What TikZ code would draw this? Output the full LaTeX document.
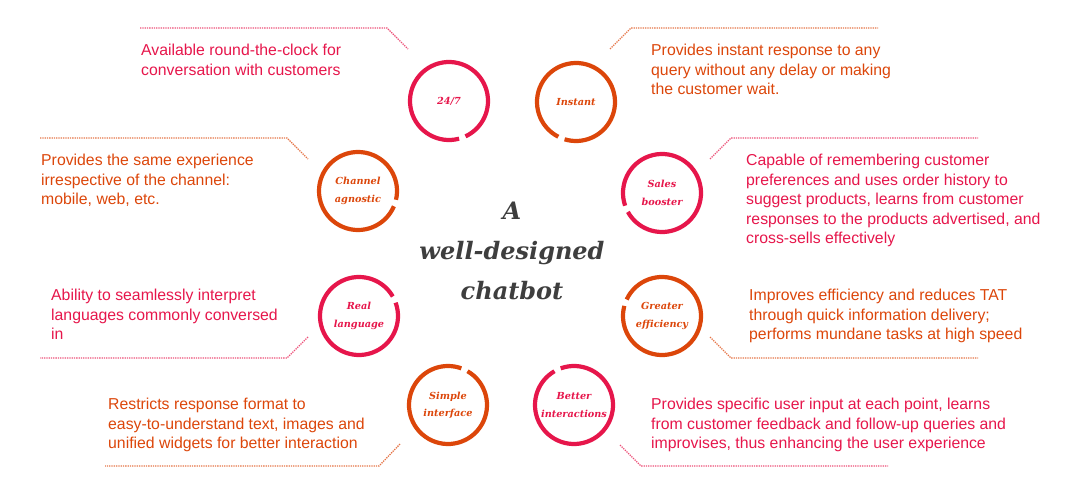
\documentclass[tikz,border=0pt]{standalone}
\usepackage{fontspec}
\setmainfont{Liberation Sans}
\newfontfamily\titlefont{DejaVu Serif}
\usetikzlibrary{calc}
\definecolor{crim}{RGB}{230,22,75}
\definecolor{oran}{RGB}{220,70,10}
\definecolor{titlegray}{RGB}{62,62,62}
\tikzset{
  desc/.style={anchor=north west, inner sep=0pt, align=left, font=\fontsize{15.8}{19.5}\selectfont},
  ring/.style={line width=4.2pt, line cap=butt},
  lbl/.style={inner sep=0pt, align=center, font=\titlefont\bfseries\itshape\fontsize{9.7}{17.5}\selectfont},
  lead/.style={densely dotted, line width=1.3pt},
}
\newcommand{\ringarc}[3]{% node, gap angle, colour
  \draw[ring,#3] ($(#1.center)+({#2+5}:39)$) arc[start angle={#2+5}, end angle={#2+355}, radius=39];}
\begin{document}
\begin{tikzpicture}[x=1pt,y=-1pt]
\useasboundingbox (0,0) rectangle (1084,500);

% circle labels
\node[lbl,crim] (c1) at (449,101) {24/7};
\node[lbl,oran] (c2) at (576,102) {Instant};
\node[lbl,oran] (c3) at (358,191) {Channel\\agnostic};
\node[lbl,crim] (c4) at (662,193) {Sales\\booster};
\node[lbl,crim] (c5) at (359,316) {Real\\language};
\node[lbl,oran] (c6) at (662,316) {Greater\\efficiency};
\node[lbl,oran] (c7) at (448,405) {Simple\\interface};
\node[lbl,crim] (c8) at (574,405) {Better\\interactions};

\ringarc{c1}{70}{crim}
\ringarc{c2}{112}{oran}
\ringarc{c3}{18}{oran}
\ringarc{c4}{156}{crim}
\ringarc{c5}{-25}{crim}
\ringarc{c6}{200}{oran}
\ringarc{c7}{-65}{oran}
\ringarc{c8}{-115}{crim}

% title
\node[inner sep=0pt, align=center, text=titlegray, font=\titlefont\bfseries\itshape\fontsize{24}{40}\selectfont] (title) at (512,251) {A\\well-designed\\chatbot};

% descriptions
\node[desc,crim] (t1) at (141,44) {Available round-the-clock for\\conversation with customers};
\node[desc,oran] (t2) at (651,44) {Provides instant response to any\\query without any delay or making\\the customer wait.};
\node[desc,oran] (t3) at (41,154) {Provides the same experience\\irrespective of the channel:\\mobile, web, etc.};
\node[desc,crim] (t4) at (746,154) {Capable of remembering customer\\preferences and uses order history to\\suggest products, learns from customer\\responses to the products advertised, and\\cross-sells effectively};
\node[desc,crim] (t5) at (51,289) {Ability to seamlessly interpret\\languages commonly conversed\\in};
\node[desc,oran] (t6) at (749,289) {Improves efficiency and reduces TAT\\through quick information delivery;\\performs mundane tasks at high speed};
\node[desc,oran] (t7) at (108,398) {Restricts response format to\\easy-to-understand text, images and\\unified widgets for better interaction};
\node[desc,crim] (t8) at (651,398) {Provides specific user input at each point, learns\\from customer feedback and follow-up queries and\\improvises, thus enhancing the user experience};

% leader lines
\coordinate (a1) at (140,28); \coordinate (b1) at (387,28); \coordinate (e1) at (408,49);
\coordinate (a2) at (610,49); \coordinate (b2) at (631,28); \coordinate (e2) at (878,28);
\coordinate (a3) at (40,138); \coordinate (b3) at (287,138); \coordinate (e3) at (308,159);
\coordinate (a4) at (710,159); \coordinate (b4) at (731,138); \coordinate (e4) at (978,138);
\coordinate (a5) at (308,337); \coordinate (b5) at (287,358); \coordinate (e5) at (40,358);
\coordinate (a6) at (710,337); \coordinate (b6) at (731,358); \coordinate (e6) at (978,358);
\coordinate (a7) at (400,444); \coordinate (b7) at (379,466); \coordinate (e7) at (105,466);
\coordinate (a8) at (620,445); \coordinate (b8) at (641,466); \coordinate (e8) at (888,466);
\draw[lead,crim!75] (a1) -- (b1) -- (e1);
\draw[lead,oran!75] (a2) -- (b2) -- (e2);
\draw[lead,oran!75] (a3) -- (b3) -- (e3);
\draw[lead,crim!75] (a4) -- (b4) -- (e4);
\draw[lead,crim!75] (a5) -- (b5) -- (e5);
\draw[lead,oran!75] (a6) -- (b6) -- (e6);
\draw[lead,oran!75] (a7) -- (b7) -- (e7);
\draw[lead,crim!75] (a8) -- (b8) -- (e8);
\end{tikzpicture}
\end{document}
